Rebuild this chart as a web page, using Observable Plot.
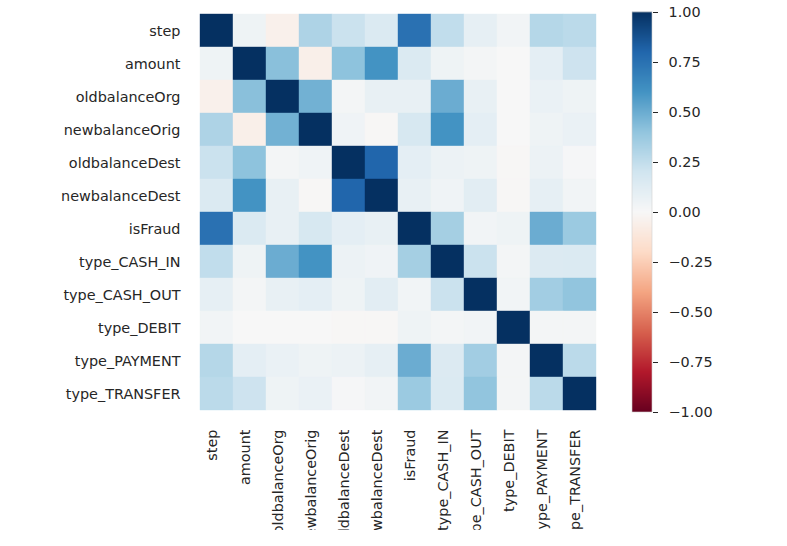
<!DOCTYPE html>
<html>
<head>
<meta charset="utf-8">
<script src="https://cdn.jsdelivr.net/npm/d3@7"></script>
<script src="https://cdn.jsdelivr.net/npm/@observablehq/plot@0.6"></script>
<style>
  html, body { margin: 0; padding: 0; background: #fff; }
  #wrap { position: relative; width: 787px; height: 546px; overflow: hidden; background: #fff; }
  #heat { position: absolute; left: 0; top: 0; width: 787px; height: 530px; overflow: hidden; }
  #cbar { position: absolute; left: 632px; top: 0; }
</style>
</head>
<body>
<div id="wrap"><div id="heat"></div><div id="cbar"></div></div>
<script>
const labels = ["step", "amount", "oldbalanceOrg", "newbalanceOrig", "oldbalanceDest", "newbalanceDest",
  "isFraud", "type_CASH_IN", "type_CASH_OUT", "type_DEBIT", "type_PAYMENT", "type_TRANSFER"];

const rowStep           = [1.00, 0.05, -0.05, 0.31, 0.22, 0.15, 0.75, 0.25, 0.09, 0.03, 0.29, 0.27];
const rowAmount         = [0.05, 1.00, 0.42, -0.06, 0.41, 0.60, 0.15, 0.05, 0.02, 0.00, 0.10, 0.21];
const rowOldbalanceOrg  = [-0.05, 0.42, 1.00, 0.48, 0.02, 0.08, 0.08, 0.50, 0.08, 0.00, 0.07, 0.05];
const rowNewbalanceOrig = [0.31, -0.06, 0.48, 1.00, 0.04, -0.01, 0.17, 0.60, 0.10, 0.00, 0.05, 0.07];
const rowOldbalanceDest = [0.22, 0.41, 0.02, 0.04, 1.00, 0.80, 0.10, 0.06, 0.05, -0.01, 0.06, 0.01];
const rowNewbalanceDest = [0.15, 0.60, 0.08, -0.01, 0.80, 1.00, 0.08, 0.04, 0.11, -0.01, 0.09, 0.03];
const rowIsFraud        = [0.75, 0.15, 0.08, 0.17, 0.10, 0.08, 1.00, 0.34, 0.03, 0.05, 0.50, 0.37];
const rowCashIn         = [0.25, 0.05, 0.50, 0.60, 0.06, 0.04, 0.34, 1.00, 0.22, 0.02, 0.14, 0.15];
const rowCashOut        = [0.09, 0.02, 0.08, 0.10, 0.05, 0.11, 0.03, 0.22, 1.00, 0.03, 0.35, 0.40];
const rowDebit          = [0.03, 0.00, 0.00, 0.00, -0.01, -0.01, 0.05, 0.02, 0.03, 1.00, 0.02, 0.02];
const rowPayment        = [0.29, 0.10, 0.07, 0.05, 0.06, 0.09, 0.50, 0.14, 0.35, 0.02, 1.00, 0.27];
const rowTransfer       = [0.27, 0.21, 0.05, 0.07, 0.01, 0.03, 0.37, 0.15, 0.40, 0.02, 0.27, 1.00];

const matrix = [rowStep, rowAmount, rowOldbalanceOrg, rowNewbalanceOrig, rowOldbalanceDest, rowNewbalanceDest,
  rowIsFraud, rowCashIn, rowCashOut, rowDebit, rowPayment, rowTransfer];

const cbTicks = [-1, -0.75, -0.5, -0.25, 0, 0.25, 0.5, 0.75, 1];

const cells = [];
matrix.forEach((row, i) => row.forEach((v, j) => cells.push({row: labels[i], col: labels[j], value: v})));

// matplotlib RdBu (linear segments between ColorBrewer stops)
const rdbu = ["#67001f", "#b2182b", "#d6604d", "#f4a582", "#fddbc7", "#f7f7f7",
  "#d1e5f0", "#92c5de", "#4393c3", "#2166ac", "#053061"];
const colorScale = {
  type: "linear",
  domain: rdbu.map((_, i) => -1 + i * 0.2),
  range: rdbu,
  interpolate: "rgb",
  clamp: true
};

const font = "'DejaVu Sans', sans-serif";
const textColor = "#262626";

const heat = Plot.plot({
  width: 787,
  height: 530,
  marginLeft: 197,
  marginRight: 189,
  marginTop: 12,
  marginBottom: 118,
  style: {fontFamily: font, fontSize: "14.4px", color: textColor, background: "transparent"},
  x: {domain: labels, padding: 0, label: null},
  y: {domain: labels, padding: 0, label: null},
  color: colorScale,
  marks: [
    Plot.cell(cells, {x: "col", y: "row", fill: "value", stroke: "value", strokeWidth: 0.4, inset: 0}),
    Plot.axisX({anchor: "bottom", tickSize: 0, tickPadding: 17, tickRotate: -90, dx: -5,
      label: null, fill: textColor}),
    Plot.axisY({anchor: "left", tickSize: 0, tickPadding: 17, label: null, fill: textColor})
  ]
});
document.getElementById("heat").appendChild(heat);

const cbStops = d3.range(-1, 1, 0.005);
const cbar = Plot.plot({
  width: 155,
  height: 440,
  marginLeft: 0,
  marginRight: 135,
  marginTop: 12,
  marginBottom: 28,
  style: {fontFamily: font, fontSize: "14.4px", color: textColor, background: "transparent", overflow: "visible"},
  x: {domain: [0, 1], axis: null},
  y: {domain: [-1, 1], label: null},
  color: colorScale,
  marks: [
    Plot.rect(cbStops, {x1: 0, x2: 1, y1: d => d, y2: d => d + 0.006, fill: d => d + 0.0025}),
    Plot.rect([0], {x1: 0, x2: 1, y1: -1, y2: 1, fill: "none", stroke: "#d0d0d0", strokeWidth: 0.6}),
    Plot.axisY({anchor: "right", ticks: cbTicks, tickFormat: d3.format(".2f"), tickSize: 5,
      tickPadding: 11, label: null, stroke: textColor, fill: textColor})
  ]
});
document.getElementById("cbar").appendChild(cbar);
</script>
</body>
</html>
